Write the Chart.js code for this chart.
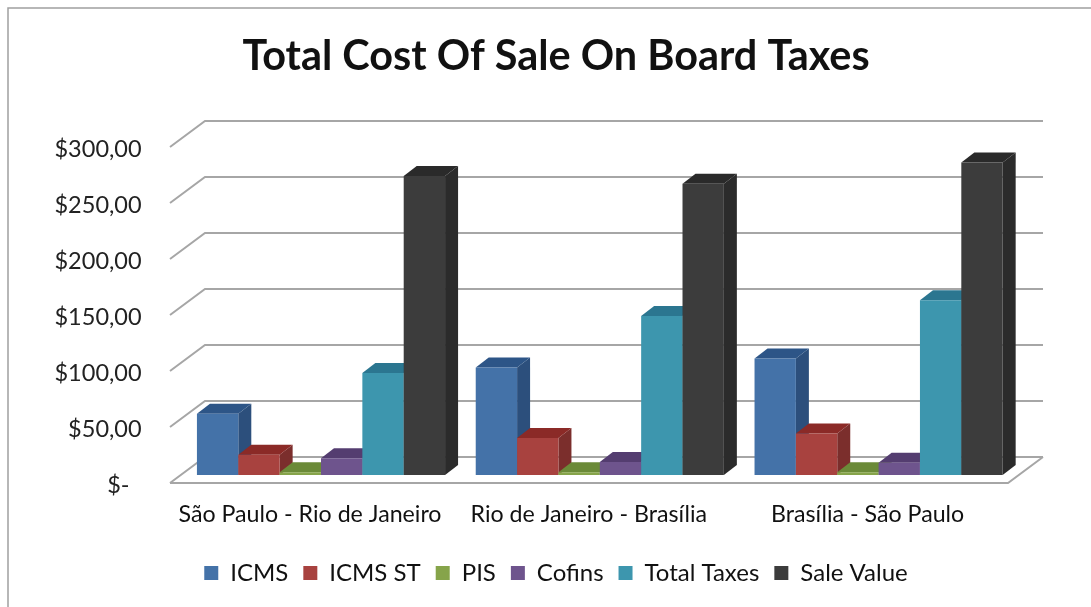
<!DOCTYPE html>
<html>
<head>
<meta charset="utf-8">
<style>
  html, body { margin: 0; padding: 0; background: #fff; }
  #wrap { position: relative; width: 1091px; height: 607px; }
</style>
<script src="https://cdn.jsdelivr.net/npm/chart.js@4"></script>
</head>
<body>
<div id="wrap"><canvas id="myChart"></canvas></div>
<script>
const categories = ["São Paulo - Rio de Janeiro", "Rio de Janeiro - Brasília", "Brasília - São Paulo"];
const icms = [54.7, 96, 104];
const icmsSt = [18, 33, 37];
const pis = [2.5, 2.5, 2.5];
const cofins = [15, 11.5, 11];
const totalTaxes = [91, 142, 156];
const saleValue = [267, 260, 279];
const yTicks = [0, 50, 100, 150, 200, 250, 300];

// front, side and top shade of each series
const colors = {
  icms: ["#4472a8", "#2c4f7c", "#2d5587"],
  icmsSt: ["#a8423f", "#7b2e2c", "#8b2a27"],
  pis: ["#86a44a", "#5d7633", "#6b8a38"],
  cofins: ["#6e548d", "#4d3a63", "#543d70"],
  totalTaxes: ["#3d96ae", "#2a6f85", "#2b7690"],
  saleValue: ["#3c3c3c", "#2b2b2b", "#2a2a2a"],
};

// how far the back of the box sits from the bars, and the floor edge from the wall
const barDepth = { x: 13, y: 10 };
const wallDepth = { x: 35, y: 26 };
const floorDrop = 8;

function money(v) {
  return v === 0 ? "$-  " : "$" + v + ",00";
}

function series(label, data, shades) {
  return { label, data, backgroundColor: shades[0], sideColor: shades[1], topColor: shades[2], borderWidth: 0 };
}

function face(ctx, color, pts) {
  ctx.fillStyle = color;
  ctx.beginPath();
  pts.forEach((p, i) => (i ? ctx.lineTo(p[0], p[1]) : ctx.moveTo(p[0], p[1])));
  ctx.closePath();
  ctx.fill();
}

// white backdrop, frame only on the top and left
const frame = {
  id: "frame",
  beforeDraw(chart) {
    const c = chart.ctx;
    c.save();
    c.fillStyle = "#fff";
    c.fillRect(0, 0, chart.width, chart.height);
    c.strokeStyle = "#a0a0a0";
    c.lineWidth = 1.5;
    c.beginPath();
    c.moveTo(8, chart.height);
    c.lineTo(8, 8);
    c.lineTo(chart.width, 8);
    c.stroke();
    c.restore();
  },
};

// wall grid lines, floor outline
const walls = {
  id: "walls",
  beforeDatasetsDraw(chart) {
    const c = chart.ctx;
    const y = chart.scales.y;
    const { left, right } = chart.chartArea;
    const x0 = left - 11.6;
    const x1 = right - 10;
    c.save();
    c.strokeStyle = "#a6a6a6";
    c.lineWidth = 2;
    c.beginPath();
    yTicks.forEach((t) => {
      const py = y.getPixelForValue(t) + floorDrop;
      c.moveTo(x0, py);
      c.lineTo(x0 + wallDepth.x, py - wallDepth.y);
      c.lineTo(x1 + wallDepth.x, py - wallDepth.y);
    });
    const base = y.getPixelForValue(0) + floorDrop;
    c.moveTo(x0, base);
    c.lineTo(x1, base);
    c.lineTo(x1 + wallDepth.x, base - wallDepth.y);
    c.stroke();
    c.restore();
  },
};

// boxes are painted left to right so each front hides the side of the one before it
const boxes = {
  id: "boxes",
  beforeDatasetsDraw(chart) {
    const c = chart.ctx;
    const dx = barDepth.x;
    const dy = barDepth.y;
    for (let n = 0; n < categories.length; n++) {
      chart.data.datasets.forEach((ds, i) => {
        const bar = chart.getDatasetMeta(i).data[n];
        const l = bar.x - bar.width / 2;
        const r = bar.x + bar.width / 2;
        face(c, ds.sideColor, [[r, bar.base], [r + dx, bar.base - dy], [r + dx, bar.y - dy], [r, bar.y]]);
        face(c, ds.topColor, [[l, bar.y], [l + dx, bar.y - dy], [r + dx, bar.y - dy], [r, bar.y]]);
        bar.draw(c);
      });
    }
    return false;
  },
};

const ctx = document.getElementById("myChart").getContext("2d");
const myChart = new Chart(ctx, {
  type: "bar",
  plugins: [frame, walls, boxes],
  data: {
    labels: categories,
    datasets: [
      series("ICMS", icms, colors.icms),
      series("ICMS ST", icmsSt, colors.icmsSt),
      series("PIS", pis, colors.pis),
      series("Cofins", cofins, colors.cofins),
      series("Total Taxes", totalTaxes, colors.totalTaxes),
      series("Sale Value", saleValue, colors.saleValue),
    ],
  },
  options: {
    responsive: true,
    maintainAspectRatio: false,
    animation: false,
    layout: { padding: { top: 0, right: 29, bottom: 12, left: 50 } },
    datasets: { bar: { barPercentage: 1, categoryPercentage: 0.89 } },
    scales: {
      x: {
        grid: { display: false },
        border: { display: false },
        afterFit(scale) { scale.height = 71; },
        ticks: {
          color: "#111",
          padding: 18,
          labelOffset: -11,
          maxRotation: 0,
          autoSkip: false,
          font: { family: "Lato", size: 23.2 },
        },
      },
      y: {
        min: 0,
        max: 300,
        grid: { display: false },
        border: { display: false },
        afterFit(scale) { scale.width = 131.6; },
        afterBuildTicks(scale) { scale.ticks = yTicks.map((value) => ({ value })); },
        ticks: {
          color: "#222",
          padding: 32,
          labelOffset: 10,
          callback: money,
          font: { family: "Lato", size: 23.5 },
        },
      },
      // empty axis that keeps the plot clear of the right edge
      spacer: {
        position: "right",
        min: 0,
        max: 300,
        grid: { display: false },
        border: { display: false },
        ticks: { display: false },
        afterFit(scale) { scale.width = 44; },
      },
    },
    plugins: {
      tooltip: { enabled: false },
      title: {
        display: true,
        text: "Total Cost Of Sale On Board Taxes",
        color: "#111",
        font: { family: "Lato", size: 41.4, weight: "bold", lineHeight: 1.2 },
        padding: { top: 31.5, bottom: 57.8 },
      },
      legend: {
        position: "bottom",
        labels: {
          color: "#111",
          boxWidth: 14,
          boxHeight: 14,
          padding: 15,
          font: { family: "Lato", size: 24 },
        },
      },
    },
  },
});
</script>
</body>
</html>
